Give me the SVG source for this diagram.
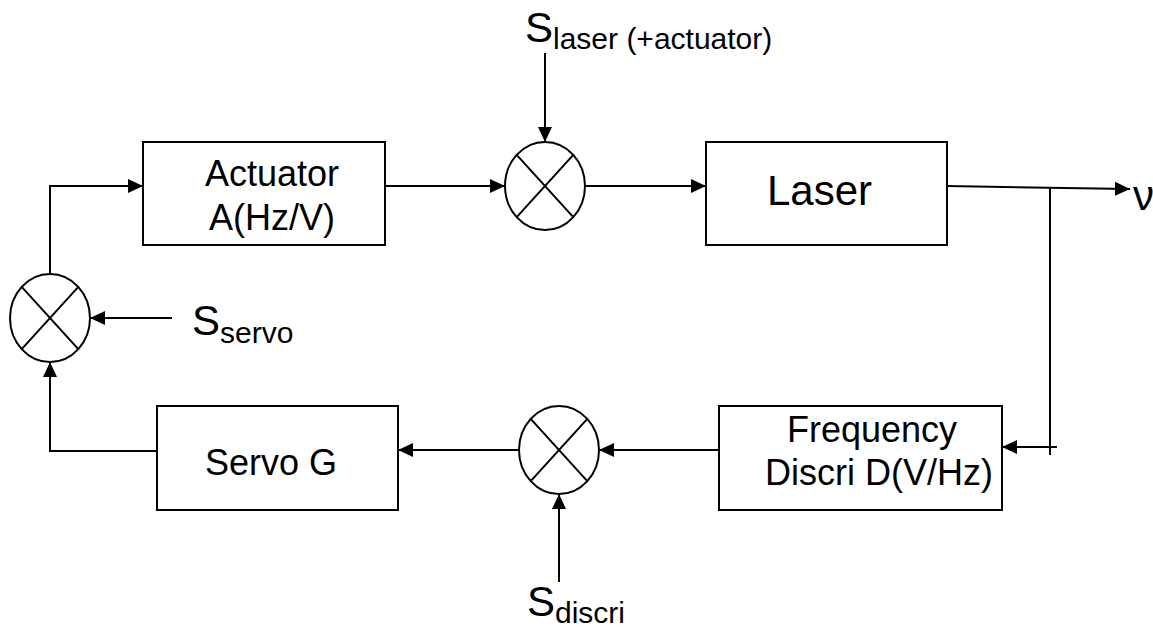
<svg xmlns="http://www.w3.org/2000/svg" width="1153" height="627" viewBox="0 0 1153 627">
<style>
  .box { fill: #fff; stroke: #000; stroke-width: 2; }
  .sum { fill: #fff; stroke: #000; stroke-width: 2; }
  .x { stroke: #000; stroke-width: 2; }
  .c { fill: none; stroke: #000; stroke-width: 2; }
  .a { marker-end: url(#ah); }
  text { font-family: "Liberation Sans", Arial, sans-serif; fill: #000; }
  .lbl { font-size: 36px; }
  .big { font-size: 42px; }
  .sub { font-size: 30px; }
</style>
<defs>
  <marker id="ah" markerWidth="15" markerHeight="14" refX="15" refY="7" orient="auto" markerUnits="userSpaceOnUse">
    <path d="M0,0 L15,7 L0,14 Z" fill="#000"/>
  </marker>
</defs>
<rect width="1153" height="627" fill="#fff"/>

<g id="connectors">
  <polyline class="c a" points="50,274 50,186 143,186"/>
  <line class="c a" x1="385" y1="186" x2="505" y2="186"/>
  <line class="c a" x1="545" y1="53" x2="545" y2="142"/>
  <line class="c a" x1="585" y1="186" x2="706" y2="186"/>
  <line class="c a" x1="947" y1="186" x2="1130" y2="189"/>
  <line class="c" x1="1050" y1="188" x2="1050" y2="455"/>
  <line class="c a" x1="1057" y1="447" x2="1002" y2="447"/>
  <line class="c a" x1="719" y1="450" x2="599" y2="450"/>
  <line class="c a" x1="559" y1="582" x2="559" y2="494"/>
  <line class="c a" x1="519" y1="450" x2="398" y2="450"/>
  <polyline class="c a" points="157,451 50,451 50,362"/>
  <line class="c a" x1="172" y1="318" x2="90" y2="318"/>
</g>

<g id="actuator">
  <rect class="box" x="143" y="142" width="242" height="103"/>
  <text class="lbl" x="272" y="186" text-anchor="middle">Actuator</text>
  <text class="lbl" x="272" y="230" text-anchor="middle">A(Hz/V)</text>
</g>

<g id="laser">
  <rect class="box" x="706" y="142" width="241" height="103"/>
  <text class="big" x="767" y="205">Laser</text>
</g>

<g id="servo">
  <rect class="box" x="157" y="406" width="241" height="104"/>
  <text class="lbl" x="205" y="475">Servo G</text>
</g>

<g id="discri">
  <rect class="box" x="719" y="406" width="283" height="104"/>
  <text class="lbl" x="787" y="442">Frequency</text>
  <text class="lbl" x="765" y="485">Discri D(V/Hz)</text>
</g>

<g id="sum1">
  <ellipse class="sum" cx="50" cy="318" rx="40" ry="44"/>
  <line class="x" x1="21.7" y1="286.9" x2="78.3" y2="349.1"/>
  <line class="x" x1="78.3" y1="286.9" x2="21.7" y2="349.1"/>
</g>

<g id="sum2">
  <ellipse class="sum" cx="545" cy="186" rx="40" ry="44"/>
  <line class="x" x1="516.7" y1="154.9" x2="573.3" y2="217.1"/>
  <line class="x" x1="573.3" y1="154.9" x2="516.7" y2="217.1"/>
</g>

<g id="sum3">
  <ellipse class="sum" cx="559" cy="450" rx="40" ry="44"/>
  <line class="x" x1="530.7" y1="418.9" x2="587.3" y2="481.1"/>
  <line class="x" x1="587.3" y1="418.9" x2="530.7" y2="481.1"/>
</g>

<g id="s-laser">
  <text class="big" x="525" y="42">S<tspan class="sub" dy="7">laser (+actuator)</tspan></text>
</g>

<g id="s-servo">
  <text class="big" x="192" y="335">S<tspan class="sub" dy="8">servo</tspan></text>
</g>

<g id="s-discri">
  <text class="big" x="527" y="616">S<tspan class="sub" dy="7">discri</tspan></text>
</g>

<g id="nu">
  <text class="big" x="1133" y="210">ν</text>
</g>
</svg>
